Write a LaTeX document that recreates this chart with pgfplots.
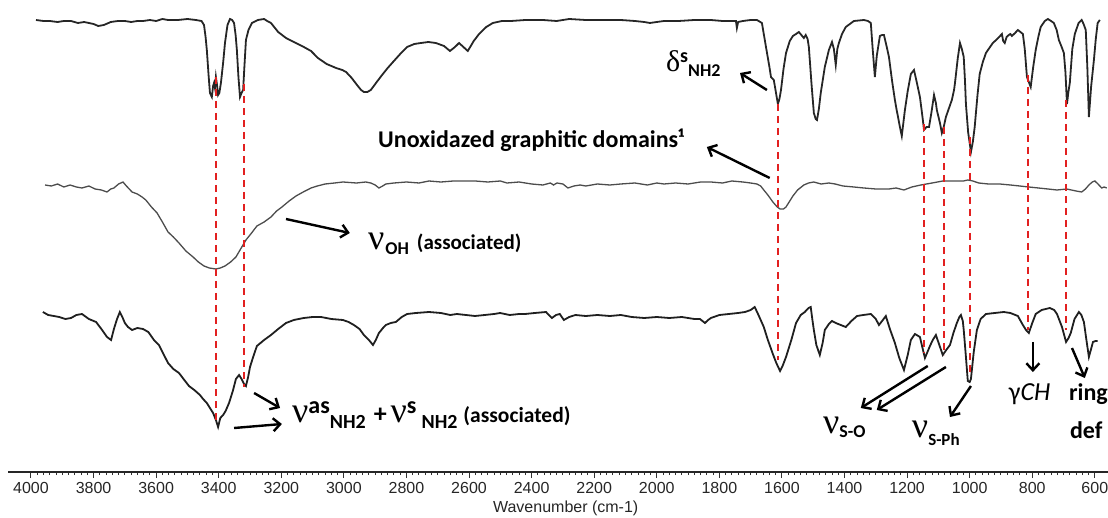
\documentclass[border=0pt]{standalone}
\usepackage{pgfplots}
\pgfplotsset{compat=1.18}
\usepackage{pgfplotstable}
\usepackage{fontspec}
\setmainfont{Liberation Sans}
\newfontfamily\calib{Carlito}
\newfontfamily\tnr{Liberation Serif}
\usetikzlibrary{arrows.meta}
\newcommand{\fs}[1]{\fontsize{#1}{#1}\selectfont}
\newcommand{\nuu}{{\tnr\fs{36}ν}}

% FTIR traces, x = wavenumber (cm-1), y = offset transmittance (arb.)
\pgfplotstableread{
w y
3984 452
3960 451
3940 451
3915 450
3895 451
3872 451
3850 449
3830 450
3800 448
3785 446
3767 447
3745 450
3722 451
3700 451
3680 450
3660 451
3642 451
3620 452
3600 451
3580 453
3562 452
3530 452
3500 453
3473 452
3455 451
3447 447
3442 435
3438 422
3432 395
3428 379
3422 375
3418 386
3415 389
3412 384
3409 395
3405 386
3402 377
3398 379
3393 389
3386 409
3380 429
3372 447
3364 453
3357 452
3351 449
3346 437
3342 422
3337 395
3332 375
3327 379
3322 382
3318 405
3313 432
3305 442
3294 449
3275 452
3255 453
3245 451
3233 449
3210 440
3185 434
3160 430
3128 425
3105 421
3083 414
3055 408
3025 404
3005 402
2993 400
2975 394
2958 387
2945 382
2936 380
2925 380
2914 382
2895 390
2878 397
2860 404
2843 410
2820 418
2798 425
2775 428
2754 429
2730 430
2706 429
2680 426
2661 421
2645 425
2632 429
2618 425
2604 421
2585 431
2568 438
2545 445
2524 449
2495 451
2466 451
2420 452
2364 452
2320 451
2280 453
2227 452
2170 452
2115 452
2070 451
2040 450
2022 449
2000 450
1977 451
1930 451
1880 452
1827 452
1790 451
1760 451
1747 451
1744 444
1740 450
1725 451
1700 452
1680 452
1664 449
1651 425
1640 405
1635 395
1626 392
1620 381
1613 368
1608 373
1603 382
1595 403
1587 419
1575 431
1565 436
1555 438
1546 440
1538 437
1530 434
1524 437
1518 433
1514 425
1505 386
1498 359
1492 353
1488 352
1482 363
1476 379
1463 405
1450 422
1440 430
1434 423
1428 407
1423 423
1418 429
1408 438
1396 445
1370 451
1338 452
1325 451
1316 449
1310 423
1303 395
1297 416
1287 436
1280 437
1274 437
1265 425
1258 415
1248 391
1239 372
1234 363
1229 355
1223 345
1217 336
1212 349
1207 362
1198 381
1188 398
1178 402
1170 391
1159 375
1150 353
1146 342
1138 345
1130 345
1122 360
1114 377
1108 369
1105 362
1095 349
1089 339
1083 345
1076 355
1066 364
1057 372
1050 382
1047 389
1038 414
1031 429
1025 423
1019 415
1015 391
1012 368
1005 340
996 320
990 330
984 345
975 377
968 398
958 410
948 419
935 425
926 429
912 433
897 438
893 431
888 429
882 435
875 437
870 438
865 436
855 439
846 442
838 440
830 438
824 423
817 395
811 390
805 385
797 405
789 422
780 436
773 445
760 451
750 453
740 451
731 449
722 442
715 432
706 425
699 419
694 400
689 368
685 379
680 389
672 423
664 438
652 449
642 452
636 448
629 442
624 405
619 355
612 385
603 412
597 433
591 449
584 452
}\toptrace

\pgfplotstableread{
w y
3955 287
3935 286
3915 288
3895 285
3875 287
3855 285
3837 284
3815 286
3795 283
3775 282
3757 280
3745 283
3735 284
3720 288
3706 290
3695 286
3677 280
3660 278
3645 275
3633 272
3615 265
3597 259
3580 250
3562 240
3545 235
3527 229
3505 221
3482 215
3465 210
3447 206
3430 204
3409 203
3395 204
3380 206
3362 210
3345 215
3330 223
3313 232
3295 239
3278 246
3255 250
3233 255
3215 261
3198 265
3175 271
3153 276
3130 280
3105 284
3085 286
3060 288
3030 289
3003 290
2960 289
2930 290
2914 289
2900 287
2888 284
2876 286
2866 288
2840 289
2800 290
2760 289
2728 291
2690 290
2650 291
2616 291
2580 291
2540 290
2500 291
2479 289
2440 290
2400 288
2364 287
2340 289
2330 287
2319 289
2300 288
2284 284
2265 286
2245 287
2227 286
2190 288
2150 287
2115 288
2070 289
2030 287
2000 289
1977 288
1940 289
1900 288
1860 290
1827 290
1790 289
1760 291
1725 290
1700 289
1680 288
1668 286
1658 282
1645 277
1629 270
1615 265
1606 263
1595 263
1587 265
1575 271
1565 276
1550 282
1530 287
1515 289
1498 290
1475 288
1450 289
1430 288
1405 286
1370 285
1338 284
1300 283
1258 283
1235 284
1210 282
1185 285
1156 287
1120 289
1086 291
1050 291
1020 291
1006 292
990 291
971 289
940 288
904 288
870 287
840 286
811 285
780 284
750 283
721 282
690 283
660 281
642 280
630 283
619 287
608 290
600 291
590 288
578 284
570 285
562 284
}\midtrace

\pgfplotstableread{
w y
3962 160
3945 157
3927 156
3910 155
3890 153
3872 154
3855 157
3837 158
3815 153
3792 150
3775 143
3757 135
3744 132
3735 143
3725 153
3716 160
3708 155
3700 149
3690 145
3677 142
3660 144
3642 143
3625 140
3607 132
3591 127
3575 117
3562 109
3545 103
3527 99
3510 92
3495 86
3478 82
3460 77
3450 73
3438 69
3428 64
3418 59
3409 52
3402 45
3395 54
3386 57
3378 61
3367 69
3355 81
3345 93
3335 97
3327 93
3319 88
3313 86
3306 95
3300 105
3290 115
3278 126
3255 132
3233 137
3210 143
3185 149
3160 152
3128 154
3100 155
3073 155
3040 153
3003 152
2985 150
2968 147
2950 143
2936 137
2920 132
2907 127
2898 132
2888 139
2875 144
2866 147
2850 149
2834 150
2815 155
2798 158
2770 159
2728 160
2690 159
2660 157
2639 158
2610 157
2581 156
2550 157
2520 158
2501 159
2470 157
2440 158
2421 158
2390 159
2354 160
2345 157
2335 154
2322 157
2310 158
2297 152
2280 155
2260 157
2227 156
2190 157
2150 156
2115 157
2080 155
2040 154
2000 155
1960 154
1920 155
1880 153
1862 153
1846 149
1836 152
1827 154
1800 157
1770 158
1740 159
1718 160
1700 162
1687 165
1675 157
1658 145
1645 132
1629 118
1618 109
1606 101
1598 106
1587 115
1570 132
1555 149
1540 157
1527 160
1515 164
1508 165
1503 153
1498 142
1490 127
1479 117
1470 129
1463 142
1450 148
1440 151
1428 149
1412 147
1396 145
1378 151
1360 156
1340 157
1316 158
1300 153
1290 147
1280 151
1268 156
1255 143
1239 129
1225 114
1210 102
1198 117
1188 132
1175 138
1159 135
1150 123
1143 114
1135 120
1127 126
1118 132
1108 137
1097 127
1086 117
1075 122
1063 127
1052 139
1041 149
1033 155
1028 157
1022 151
1019 142
1012 115
1006 91
1000 90
996 93
987 120
977 142
965 153
948 158
920 159
891 160
870 159
846 156
830 147
820 142
811 139
800 149
789 158
770 162
744 164
730 162
721 158
705 145
692 130
684 134
677 139
665 153
651 160
643 157
635 150
626 130
619 115
612 123
606 130
598 131
591 131
}\bottrace

\definecolor{guidered}{RGB}{226,32,32}

\begin{document}
\begin{tikzpicture}
\path[use as bounding box] (0,0) rectangle (1108pt,517pt);
\begin{axis}[
    scale only axis,
    width=1100pt, height=472pt,
    at={(8pt,45pt)}, anchor=south west,
    x dir=reverse,
    xmin=558, xmax=4073.5,
    ymin=0, ymax=472,
    hide y axis,
    axis x line*=bottom,
    axis line style={line width=1.4pt, black!85},
    xtick={600,800,...,4000},
    minor x tick num=9,
    tick align=outside,
    major tick length=6pt,
    minor tick length=3pt,
    every tick/.style={line width=1pt, black!80},
    /pgf/number format/1000 sep={},
    /pgf/number format/assume math mode=true,
    xticklabel style={font=\fs{16}, text=black!85, yshift=-1pt},
    xlabel={Wavenumber (cm-1)},
    xlabel style={font=\fs{16}, text=black!85, at={(axis description cs:0.507,0)}, anchor=center, yshift=-36pt},
    clip=false,
]
\addplot[line width=1.8pt, black!85] table[x=w, y=y] {\toptrace};
\addplot[line width=1.3pt, black!70] table[x=w, y=y] {\midtrace};
\addplot[line width=1.8pt, black!88] table[x=w, y=y] {\bottrace};

% red guides
\foreach \xx/\ya/\yb in {3409/395/50, 3319/388/85, 1613/368/112, 1147/348/119, 1083/345/117, 1000/335/97, 814/397/142, 693/372/142}{
  \edef\tmp{\noexpand\draw[guidered, line width=1.8pt, dash pattern=on 7pt off 5pt] (axis cs:\xx,\ya) -- (axis cs:\xx,\yb);}
  \tmp
}

% arrows
\tikzset{ann/.style={line width=2.4pt, black, -{Straight Barb[length=7pt, width=13pt]}}}
\draw[ann] (axis cs:1648,382) -- (axis cs:1734,399);
\draw[ann] (axis cs:1639,294) -- (axis cs:1840,325);
\draw[ann] (axis cs:3185,253) -- (axis cs:2981,239);
\draw[ann] (axis cs:3287,79) -- (axis cs:3204,64);
\draw[ann] (axis cs:3351,44) -- (axis cs:3198,48);
\draw[ann] (axis cs:1134,106) -- (axis cs:1348,64);
\draw[ann] (axis cs:1076,105) -- (axis cs:1297,62);
\draw[ann] (axis cs:996,86) -- (axis cs:1063,55);
\draw[ann] (axis cs:798,130) -- (axis cs:798,100);
\draw[ann] (axis cs:673,124) -- (axis cs:632,94);

% labels
\node[anchor=base west, inner sep=0pt] at (axis cs:1971,400)
  {{\tnr\fs{30}δ}\raisebox{9pt}{\calib\bfseries\fs{20}s}\raisebox{-5pt}{\calib\bfseries\fs{18}NH2}};
\node[anchor=base west, inner sep=0pt] at (axis cs:2891,324)
  {\calib\bfseries\fs{24}Unoxidazed graphitic domains¹};
\node[anchor=base west, inner sep=0pt] at (axis cs:2923,222)
  {\nuu\hspace{1pt}\raisebox{-5pt}{\calib\bfseries\fs{18}OH}\hspace{8pt}{\calib\bfseries\fs{21}(associated)}};
\node[anchor=base west, inner sep=0pt] at (axis cs:3166,50)
  {\nuu\raisebox{9pt}{\calib\bfseries\fs{24}as}\raisebox{-6pt}{\calib\bfseries\fs{20}NH2}\hspace{8pt}{\calib\bfseries\fs{26}+}\hspace{4pt}\nuu\raisebox{9pt}{\calib\bfseries\fs{24}s}\hspace{5pt}\raisebox{-6pt}{\calib\bfseries\fs{20}NH2}\hspace{6pt}{\calib\bfseries\fs{21.5}(associated)}};
\node[anchor=base west, inner sep=0pt] at (axis cs:1469,39)
  {\nuu\raisebox{-4pt}{\calib\bfseries\fs{18}S-O}};
\node[anchor=base west, inner sep=0pt] at (axis cs:1185,35)
  {\nuu\raisebox{-8pt}{\calib\bfseries\fs{17}S-Ph}};
\node[anchor=base west, inner sep=0pt] at (axis cs:875,72)
  {\calib\fs{26}γ\itshape CH};
\node[anchor=base west, inner sep=0pt] at (axis cs:683,72) {\calib\bfseries\fs{24}ring};
\node[anchor=base west, inner sep=0pt] at (axis cs:680,34) {\calib\bfseries\fs{24}def};
\end{axis}
\end{tikzpicture}
\end{document}
